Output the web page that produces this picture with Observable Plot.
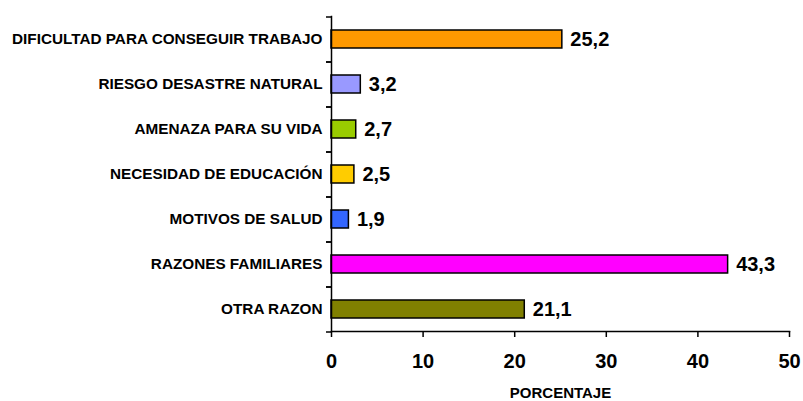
<!DOCTYPE html>
<html>
<head>
<meta charset="utf-8">
<script src="https://cdn.jsdelivr.net/npm/d3@7"></script>
<script src="https://cdn.jsdelivr.net/npm/@observablehq/plot@0.6"></script>
<style>
  html, body { margin: 0; padding: 0; background: #fff; }
  #chart svg { display: block; font-family: "Liberation Sans", Arial, sans-serif; }
</style>
</head>
<body>
<div id="chart"></div>
<script>
const categories = [
  "DIFICULTAD PARA CONSEGUIR TRABAJO",
  "RIESGO DESASTRE NATURAL",
  "AMENAZA PARA SU VIDA",
  "NECESIDAD DE EDUCACIÓN",
  "MOTIVOS DE SALUD",
  "RAZONES FAMILIARES",
  "OTRA RAZON"
];
const values = [25.2, 3.2, 2.7, 2.5, 1.9, 43.3, 21.1];
const colors = ["#FF9900", "#9999FF", "#99CC00", "#FFCC00", "#3366FF", "#FF00FF", "#808000"];
const xTicks = [0, 10, 20, 30, 40, 50];
const xLabel = "PORCENTAJE";

const data = categories.map((c, i) => ({category: c, value: values[i], color: colors[i]}));

const width = 803, height = 401;
const marginTop = 16, marginBottom = 70, marginLeft = 331, marginRight = 14;
const step = (height - marginTop - marginBottom) / categories.length;
const fmt = v => v.toFixed(1).replace(".", ",");

const chart = Plot.plot({
  width, height, marginTop, marginBottom, marginLeft, marginRight,
  style: {fontFamily: "'Liberation Sans', Arial, sans-serif", color: "#000", background: "#fff"},
  x: {domain: [0, 50], ticks: xTicks},
  y: {domain: categories, paddingInner: 0.6, paddingOuter: 0.3},
  marks: [
    Plot.barX(data, {x: "value", y: "category", fill: "color", stroke: "#000", strokeWidth: 1.5}),
    Plot.text(data, {x: "value", y: "category", text: d => fmt(d.value), textAnchor: "start", dx: 8,
      fontSize: 20, fontWeight: "bold", fill: "#000"}),
    Plot.frame({anchor: "left", stroke: "#000", strokeWidth: 1.5, strokeOpacity: 1}),
    Plot.frame({anchor: "bottom", stroke: "#000", strokeWidth: 1.5, strokeOpacity: 1}),
    Plot.axisY({tickSize: 5, text: null, dy: step / 2, strokeWidth: 1.5, strokeOpacity: 1, label: null}),
    Plot.axisY({tickSize: 5, text: null, dy: -step / 2, strokeWidth: 1.5, strokeOpacity: 1, label: null}),
    Plot.axisY({tickSize: 0, tickPadding: 9, fontSize: 15.3, fontWeight: "bold", label: null, fill: "#000"}),
    Plot.axisX({ticks: xTicks, tickSize: 6, tickPadding: 16, fontSize: 20, fontWeight: "bold",
      label: null, strokeWidth: 1.5, strokeOpacity: 1, fill: "#000"}),
    Plot.text([xLabel], {frameAnchor: "bottom", dy: 66, text: d => d, fontSize: 15,
      fontWeight: "bold", fill: "#000", textAnchor: "middle"})
  ]
});
document.getElementById("chart").appendChild(chart);
</script>
</body>
</html>
